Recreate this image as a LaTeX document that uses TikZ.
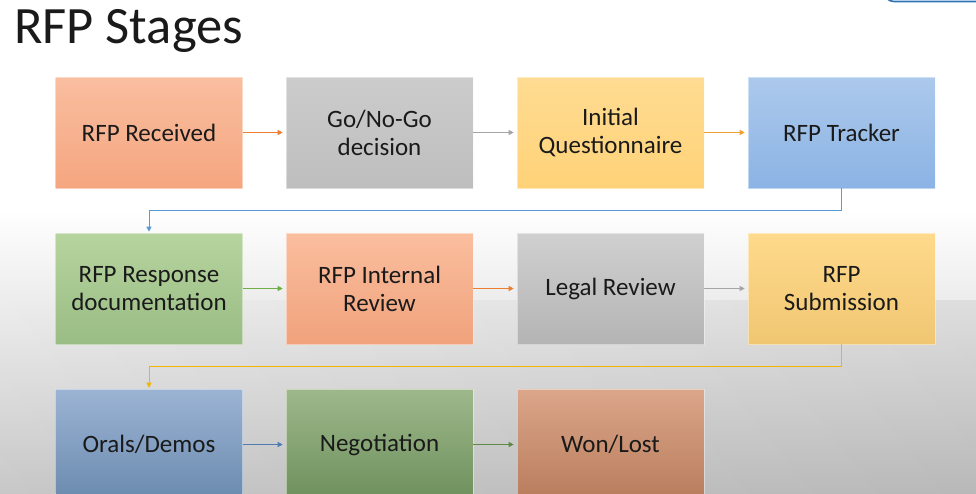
\documentclass[tikz,border=0pt]{standalone}
\usepackage{fontspec}
\setmainfont{Carlito}
\usetikzlibrary{arrows.meta,calc}
\definecolor{txt}{HTML}{1A1A1A}
\definecolor{arOrange}{HTML}{ED7D31}
\definecolor{arGray}{HTML}{A5A5A5}
\definecolor{arGold}{HTML}{F0A030}
\definecolor{arBlue}{HTML}{5B9BD5}
\definecolor{arGreen}{HTML}{70AD47}
\definecolor{arYellow}{HTML}{F2B600}
\definecolor{arBlueD}{HTML}{4F7CB3}
\definecolor{arGreenD}{HTML}{5E8A45}
\tikzset{
  stagebox/.style={minimum width=187pt,minimum height=111pt,inner sep=2pt,align=center,
    text=txt,font=\fontsize{25}{28}\selectfont,draw=white,draw opacity=0.45,line width=0.6pt},
  arr/.style={-{Triangle[length=5pt,width=5pt]},line width=0.9pt,shorten >=3pt},
}
\begin{document}
\begin{tikzpicture}[x=1pt,y=-1pt]
\useasboundingbox (0,0) rectangle (976,493);
\clip (0,0) rectangle (976,493);
% background
\fill[white] (0,0) rectangle (976,210);
\shade[top color=white,bottom color=black!23] (0,210) rectangle (976,493);
\shade[left color=white,right color=black,opacity=0.06] (0,300) rectangle (976,493);
% top right shape
\draw[color={rgb,255:red,46;green,117;blue,182},line width=1.6pt,rounded corners=10pt] (884,-30) rectangle (1010,1.5);
% title
\node[anchor=base west,inner sep=0,font=\fontsize{52.5}{60}\selectfont,text=txt] (title) at (14,43) {RFP Stages};
% row 1
\node[stagebox,top color={rgb,255:red,249;green,190;blue,160},bottom color={rgb,255:red,245;green,166;blue,127}] (a1) at (149,132.5) {RFP Received};
\node[stagebox,top color={rgb,255:red,204;green,204;blue,204},bottom color={rgb,255:red,190;green,190;blue,190}] (a2) at (379.5,132.5) {Go/No-Go\\decision};
\node[stagebox,top color={rgb,255:red,255;green,220;blue,146},bottom color={rgb,255:red,255;green,210;blue,120}] (a3) at (610.5,132.5) {Initial\\Questionnaire};
\node[stagebox,top color={rgb,255:red,172;green,201;blue,236},bottom color={rgb,255:red,139;green,179;blue,228}] (a4) at (841.5,132.5) {RFP Tracker};
% row 2
\node[stagebox,top color={rgb,255:red,182;green,212;blue,158},bottom color={rgb,255:red,154;green,188;blue,133}] (b1) at (149,288.5) {RFP Response\\documentation};
\node[stagebox,top color={rgb,255:red,250;green,190;blue,158},bottom color={rgb,255:red,240;green,162;blue,124}] (b2) at (379.5,288.5) {RFP Internal\\Review};
\node[stagebox,top color={rgb,255:red,208;green,208;blue,208},bottom color={rgb,255:red,180;green,180;blue,180}] (b3) at (610.5,288.5) {Legal Review};
\node[stagebox,top color={rgb,255:red,255;green,218;blue,140},bottom color={rgb,255:red,240;green,198;blue,114}] (b4) at (841.5,288.5) {RFP\\Submission};
% row 3
\node[stagebox,top color={rgb,255:red,156;green,180;blue,212},bottom color={rgb,255:red,106;green,138;blue,174}] (c1) at (149,444.5) {Orals/Demos};
\node[stagebox,top color={rgb,255:red,158;green,184;blue,140},bottom color={rgb,255:red,110;green,144;blue,92}] (c2) at (379.5,444.5) {Negotiation};
\node[stagebox,top color={rgb,255:red,220;green,166;blue,138},bottom color={rgb,255:red,184;green,124;blue,92}] (c3) at (610.5,444.5) {Won/Lost};
% arrows row 1
\draw[arr,arOrange] (a1) -- (a2);
\draw[arr,arGray] (a2) -- (a3);
\draw[arr,arGold] (a3) -- (a4);
% row 1 -> row 2
\coordinate (j1) at (a4.south |- 0,210);
\draw[arr,arBlue,line width=0.8pt,shorten >=1pt] (a4.south) -- (j1) -| (b1.north);
% arrows row 2
\draw[arr,arGreen] (b1) -- (b2);
\draw[arr,arOrange] (b2) -- (b3);
\draw[arr,arGray] (b3) -- (b4);
% row 2 -> row 3
\coordinate (j2) at (b4.south |- 0,366);
\draw[arr,arYellow,line width=0.8pt,shorten >=1pt] (b4.south) -- (j2) -| (c1.north);
% arrows row 3
\draw[arr,arBlueD] (c1) -- (c2);
\draw[arr,arGreenD] (c2) -- (c3);
\end{tikzpicture}
\end{document}
